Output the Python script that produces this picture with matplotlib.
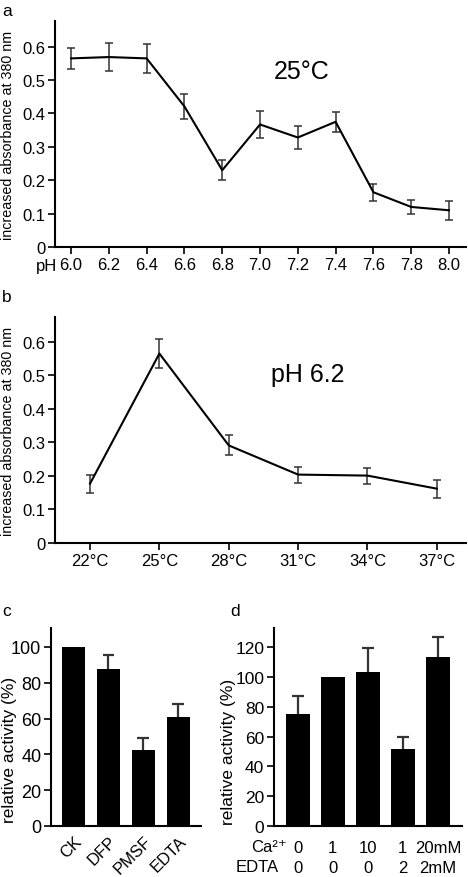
import matplotlib
matplotlib.use('Agg')
import matplotlib.pyplot as plt
import numpy as np

plt.rcParams['font.family'] = ['Liberation Sans', 'DejaVu Sans']

# panel a: pH series at 25 C
ph = [6.0, 6.2, 6.4, 6.6, 6.8, 7.0, 7.2, 7.4, 7.6, 7.8, 8.0]
abs_ph = [0.565, 0.569, 0.565, 0.421, 0.230, 0.367, 0.328, 0.375, 0.164, 0.120, 0.110]
err_ph = [0.032, 0.042, 0.044, 0.037, 0.030, 0.039, 0.035, 0.030, 0.026, 0.022, 0.028]

# panel b: temperature series at pH 6.2
temps = ['22°C', '25°C', '28°C', '31°C', '34°C', '37°C']
abs_t = [0.177, 0.565, 0.291, 0.204, 0.201, 0.162]
err_t = [0.027, 0.042, 0.030, 0.024, 0.024, 0.027]

# panel c: inhibitors
inhib = ['CK', 'DFP', 'PMSF', 'EDTA']
act_c = [100, 87.7, 42.6, 60.7]
err_c = [0, 8.0, 6.6, 7.7]

# panel d: Ca2+ / EDTA
ca_lab = ['0', '1', '10', '1', '20mM']
edta_lab = ['0', '0', '0', '2', '2mM']
act_d = [75.1, 100, 103.6, 51.8, 113.1]
err_d = [12.2, 0, 15.5, 7.6, 13.4]

W, H = 468, 878
fig = plt.figure(figsize=(W / 100, H / 100), dpi=100)

def box(l, t, r, b):
    return [l / W, (H - b) / H, (r - l) / W, (b - t) / H]

ax_a = fig.add_axes(box(55, 22, 466, 248))
ax_b = fig.add_axes(box(55, 318, 466, 544))
ax_c = fig.add_axes(box(51, 629, 201, 827))
ax_d = fig.add_axes(box(274, 629, 462, 827))

for ax in [ax_a, ax_b, ax_c, ax_d]:
    for s in ['top', 'right']:
        ax.spines[s].set_visible(False)
    for s in ['left', 'bottom']:
        ax.spines[s].set_linewidth(1.5)
    ax.tick_params(width=1.2, length=5, labelsize=12, pad=2)

line_kw = dict(color='black', lw=1.5, ecolor='#333333', elinewidth=1.1, capsize=2.8, capthick=1.1)

# a
ax_a.errorbar(ph, abs_ph, yerr=err_ph, **line_kw)
ax_a.set_xlim(5.915, 8.09)
ax_a.set_ylim(0, 0.677)
ax_a.set_xticks(ph)
ax_a.set_xticklabels(['%.1f' % v for v in ph])
ax_a.set_yticks([0, 0.1, 0.2, 0.3, 0.4, 0.5, 0.6])
ax_a.set_yticklabels(['0', '0.1', '0.2', '0.3', '0.4', '0.5', '0.6'])
ax_a.set_ylabel('increased absorbance at 380 nm', fontsize=10.3)
ax_a.yaxis.set_label_coords(-0.097, 0.5)

# b
xb = np.arange(len(temps))
ax_b.errorbar(xb, abs_t, yerr=err_t, **line_kw)
ax_b.set_xlim(-0.505, 5.42)
ax_b.set_ylim(0, 0.674)
ax_b.set_xticks(xb)
ax_b.set_xticklabels(temps)
ax_b.set_yticks([0, 0.1, 0.2, 0.3, 0.4, 0.5, 0.6])
ax_b.set_yticklabels(['0', '0.1', '0.2', '0.3', '0.4', '0.5', '0.6'])
ax_b.set_ylabel('increased absorbance at 380 nm', fontsize=10.3)
ax_b.yaxis.set_label_coords(-0.097, 0.5)

def up_err(ax, x, y, e, cap):
    x = np.asarray(x)[np.asarray(e) > 0]
    y = np.asarray(y)[np.asarray(e) > 0]
    e = np.asarray(e)[np.asarray(e) > 0]
    ax.vlines(x, y, y + e, color='#333333', lw=1.6)
    ax.hlines(y + e, x - cap, x + cap, color='#333333', lw=1.6)

# c
xc = np.arange(len(inhib))
ax_c.bar(xc, act_c, width=0.667, color='black')
up_err(ax_c, xc, act_c, err_c, 0.17)
ax_c.set_xlim(-0.646, 3.65)
ax_c.set_ylim(0, 110.6)
ax_c.set_yticks([0, 20, 40, 60, 80, 100])
ax_c.set_xticks(xc)
ax_c.set_xticklabels(inhib, rotation=45, ha='right', rotation_mode='anchor')
ax_c.tick_params(axis='x', length=0, pad=5)
ax_c.tick_params(axis='y', labelsize=13)
ax_c.set_ylabel('relative activity (%)', fontsize=12.5)
ax_c.yaxis.set_label_coords(-0.227, 0.39)

# d
xd = np.arange(len(act_d))
ax_d.bar(xd, act_d, width=0.69, color='black')
up_err(ax_d, xd, act_d, err_d, 0.17)
ax_d.set_xlim(-0.68, 4.69)
ax_d.set_ylim(0, 132.8)
ax_d.set_yticks([0, 20, 40, 60, 80, 100, 120])
ax_d.set_xticks(xd)
ax_d.set_xticklabels([c + '\n' + e for c, e in zip(ca_lab, edta_lab)], linespacing=1.4)
ax_d.tick_params(axis='x', length=0, pad=10)
ax_d.tick_params(axis='y', labelsize=12.5)
ax_d.set_ylabel('relative activity (%)', fontsize=12.5)
ax_d.yaxis.set_label_coords(-0.2, 0.38)

# panel letters and free text in pixel space
def px_text(x, y, s, **kw):
    fig.text(x / W, 1 - y / H, s, **kw)

px_text(2, 12, 'a', fontsize=12.5, va='center')
px_text(2, 297, 'b', fontsize=12.5, va='center')
px_text(2, 612, 'c', fontsize=12.5, va='center')
px_text(230, 612, 'd', fontsize=12.5, va='center')
px_text(57, 266, 'pH', fontsize=12, ha='right', va='center')
px_text(287, 848, 'Ca²⁺', fontsize=12, ha='right', va='center')
px_text(279, 868, 'EDTA', fontsize=12, ha='right', va='center')
px_text(274, 72, '25°C', fontsize=18, va='center')
px_text(271, 375, 'pH 6.2', fontsize=18, va='center')

fig.savefig('out.png', dpi=100)
